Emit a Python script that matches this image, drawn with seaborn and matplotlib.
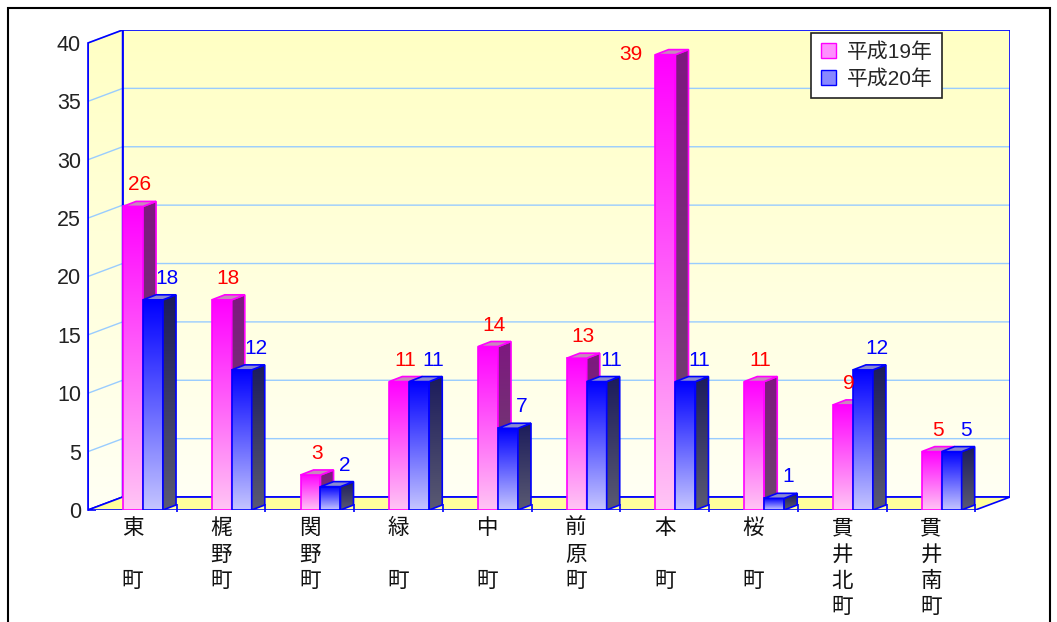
import numpy as np
import pandas as pd
import matplotlib.pyplot as plt
from matplotlib.patches import Polygon, Rectangle, Patch
from matplotlib.colors import to_rgb
import seaborn as sns

# data
towns = ['東町', '梶野町', '関野町', '緑町', '中町', '前原町', '本町', '桜町', '貫井北町', '貫井南町']
tick_labels = ['東\n\n町', '梶\n野\n町', '関\n野\n町', '緑\n\n町', '中\n\n町',
               '前\n原\n町', '本\n\n町', '桜\n\n町', '貫\n井\n北\n町', '貫\n井\n南\n町']
years = ['平成19年', '平成20年']
h19 = [26, 18, 3, 11, 14, 13, 39, 11, 9, 5]
h20 = [18, 12, 2, 11, 7, 11, 11, 1, 12, 5]
yticks = [0, 5, 10, 15, 20, 25, 30, 35, 40]

df = pd.DataFrame({
    'town': towns * 2,
    'count': h19 + h20,
    'year': [years[0]] * len(towns) + [years[1]] * len(towns),
})

# styling per series
styles = [
    dict(front=('#ffc4f4', '#ff00ff'), side=('#6a4a6a', '#7e1880'), top='#c888bc',
         edge='#ff00ff', label='#ff0000', loff=0.07, legend='#ff90ff'),
    dict(front=('#c4c4ff', '#0000ff'), side=('#5a5a72', '#1c1c5c'), top='#8a8ad0',
         edge='#0000ff', label='#0000ff', loff=0.16, legend='#8888ff'),
]

W, H = 1057, 622
DX, DY = 0.39, 1.11          # wall depth in data units
BDX, BDY = 0.147, 0.43       # bar depth
SHIFT = 0.12                 # bars sit a bit right of the slot centre
BLUE = '#0000ff'
GRID = '#99ccff'


def vgrad(c_bottom, c_top, n=64):
    a = np.array(to_rgb(c_bottom))
    b = np.array(to_rgb(c_top))
    t = np.linspace(0, 1, n)[:, None, None]
    return a * (1 - t) + b * t


sns.set_theme(style='white')
plt.rcParams['font.family'] = ['Liberation Sans', 'Noto Sans CJK JP', 'DejaVu Sans']

fig = plt.figure(figsize=(W / 100, H / 100), dpi=100)
fig.patch.set_facecolor('white')
ax = fig.add_axes([88 / W, (H - 510) / H, (1010 - 88) / W, (510 - 30) / H])
ax.patch.set_alpha(0)

sns.barplot(data=df, x='town', y='count', hue='year', order=towns, hue_order=years,
            width=0.45, palette=[s['legend'] for s in styles], saturation=1,
            legend=False, ax=ax)

n = len(towns)
x_lo, x_hi = -0.5, n - 0.5
ytop = yticks[-1]

# back wall
back = Polygon([(x_lo + DX, DY), (x_hi + DX, DY), (x_hi + DX, ytop + DY), (x_lo + DX, ytop + DY)],
               closed=True, facecolor='none', edgecolor=BLUE, lw=1.2, zorder=1.5)
ax.add_patch(back)
im = ax.imshow(vgrad('#fffff4', '#ffffc4'), extent=(x_lo + DX, x_hi + DX, DY, ytop + DY),
               origin='lower', aspect='auto', zorder=1, interpolation='bilinear')
im.set_clip_path(back)

# left wall
left = Polygon([(x_lo, 0), (x_lo + DX, DY), (x_lo + DX, ytop + DY), (x_lo, ytop)],
               closed=True, facecolor='none', edgecolor=BLUE, lw=1.2, zorder=1.5)
ax.add_patch(left)
im = ax.imshow(vgrad('#fffff4', '#ffffc4'), extent=(x_lo, x_lo + DX, 0, ytop + DY),
               origin='lower', aspect='auto', zorder=1, interpolation='bilinear')
im.set_clip_path(left)

# grid lines on the walls
for v in yticks[1:]:
    ax.plot([x_lo, x_lo + DX, x_hi + DX], [v, v + DY, v + DY], color=GRID, lw=1, zorder=1.2)

# floor
ax.add_patch(Polygon([(x_lo, 0), (x_hi, 0), (x_hi + DX, DY), (x_lo + DX, DY)],
                     closed=True, facecolor='#ffff9c', edgecolor=BLUE, lw=1.2, zorder=1.6))
ax.vlines([k + 0.5 for k in range(n)], -0.15, 0.5, color=BLUE, lw=1.2, zorder=1.7, clip_on=False)

# pseudo 3d bars built from seaborn's rectangles
for i, cont in enumerate(ax.containers):
    st = styles[i]
    for j, rect in enumerate(cont):
        z = 3 + j + i * 0.5
        x0 = rect.get_x() + SHIFT
        w = rect.get_width()
        h = rect.get_height()
        x1 = x0 + w
        rect.set_x(x0)
        rect.set_facecolor('none')
        rect.set_edgecolor(st['edge'])
        rect.set_linewidth(1.2)
        rect.set_zorder(z + 0.05)
        ax.imshow(vgrad(*st['front']), extent=(x0, x1, 0, h), origin='lower',
                  aspect='auto', zorder=z, interpolation='bilinear')

        side = Polygon([(x1, 0), (x1 + BDX, BDY), (x1 + BDX, h + BDY), (x1, h)], closed=True,
                       facecolor='none', edgecolor=st['edge'], lw=1.2, zorder=z + 0.15)
        ax.add_patch(side)
        im = ax.imshow(vgrad(*st['side']), extent=(x1, x1 + BDX, 0, h + BDY), origin='lower',
                       aspect='auto', zorder=z + 0.1, interpolation='bilinear')
        im.set_clip_path(side)

        ax.add_patch(Polygon([(x0, h), (x1, h), (x1 + BDX, h + BDY), (x0 + BDX, h + BDY)],
                             closed=True, facecolor=st['top'], edgecolor=st['edge'], lw=1.2,
                             zorder=z + 0.15))

        if h + BDY + 2.5 > ytop + DY:
            # no room above: label goes to the left of the bar
            ax.annotate(str(int(h)), (x0, h), xytext=(-9, 0), textcoords='offset points',
                        ha='right', va='center', color=st['label'], fontsize=15, zorder=20)
        else:
            ax.annotate(str(int(h)), (x0 + w / 2 + st['loff'], h + BDY), xytext=(0, 5),
                        textcoords='offset points', ha='center', va='bottom',
                        color=st['label'], fontsize=15, zorder=20)

ax.set_xlim(x_lo, x_hi + DX)
ax.set_ylim(0, ytop + DY)
ax.set_xlabel('')
ax.set_ylabel('')

ax.set_yticks(yticks)
ax.tick_params(axis='y', direction='in', length=6, width=1.2, color=BLUE,
               labelsize=15.5, labelcolor='#222222', pad=5, left=True)
ax.set_xticks(range(n))
ax.set_xticklabels(tick_labels, fontsize=15.5, linespacing=1.33, va='top')
ax.tick_params(axis='x', length=0, pad=6, labelcolor='#111111')

for name, sp in ax.spines.items():
    sp.set_visible(name == 'left')
ax.spines['left'].set_color(BLUE)
ax.spines['left'].set_linewidth(1.2)
ax.spines['left'].set_bounds(0, ytop)
ax.spines['left'].set_zorder(2)

handles = [Patch(facecolor=s['legend'], edgecolor=s['edge']) for s in styles]
leg = ax.legend(handles, years, loc='upper right', bbox_to_anchor=(942 / W, (H - 33) / H),
                bbox_transform=fig.transFigure, frameon=True, fancybox=False,
                edgecolor='#222222', framealpha=1, fontsize=15, borderaxespad=0,
                handlelength=0.75, handleheight=0.75, handletextpad=0.5,
                borderpad=0.45, labelspacing=0.35)
leg.set_zorder(30)
leg.get_frame().set_linewidth(1.2)

# outer black frame
fig.add_artist(Rectangle((8 / W, -0.02), (1050 - 8) / W, 1 - 8 / H + 0.02,
                         transform=fig.transFigure, fill=False, edgecolor='black', lw=1.5))

fig.savefig('out.png', dpi=100)
